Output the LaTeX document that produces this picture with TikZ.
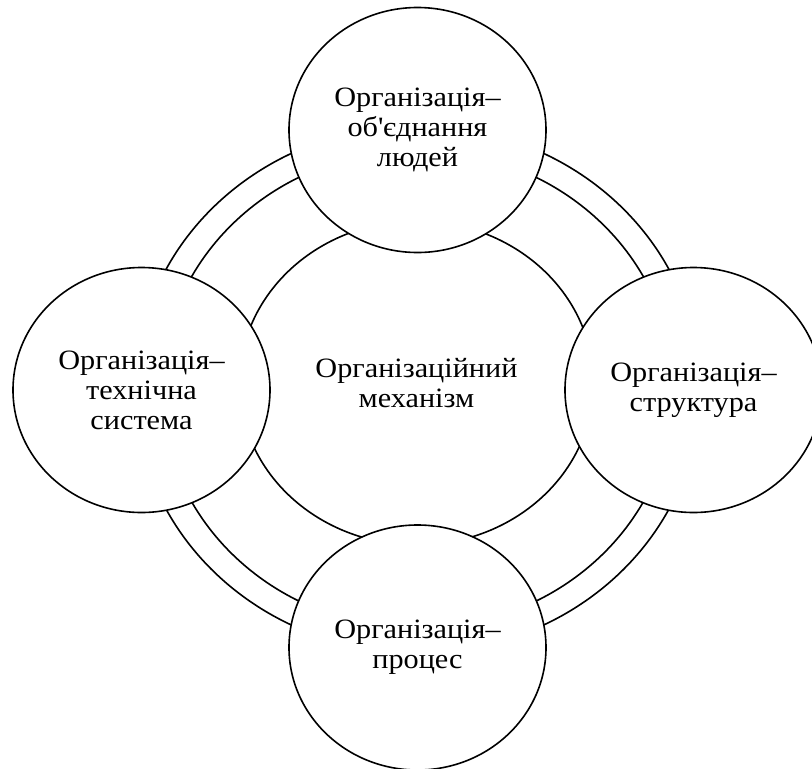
\documentclass[tikz,border=0pt]{standalone}
\usepackage{fontspec}
\setmainfont{Liberation Serif}[FakeStretch=1.08]
\usetikzlibrary{shapes.geometric}
\begin{document}
\begin{tikzpicture}[x=1pt,y=-1pt,line width=1.6pt,
  txt/.style={align=center,font=\fontsize{28}{30}\selectfont},
  sat/.style={ellipse,draw,fill=white,inner sep=0pt,txt,
    minimum width=257pt,minimum height=245pt},
  core/.style={ellipse,draw,fill=white,inner sep=0pt,txt,
    minimum width=354pt,minimum height=324pt},
  ringline/.style={draw}]
\useasboundingbox (0,0) rectangle (812,769);
\clip (0,0) rectangle (812,769);
% double ring
\coordinate (mid) at (417.5,389.2);
\draw[ringline] (mid) ellipse [x radius=282.3pt,y radius=263.5pt];
\draw[ringline] (mid) ellipse [x radius=256pt,y radius=239pt];
% central circle
\node[core] (core) at (416.5,383) {Організаційний\\механізм};
% satellites
\node[sat] (top) at (417.5,130) {Організація–\\об\textquotesingle єднання\\людей};
\node[sat] (left) at (141.5,390) {Організація–\\технічна\\система};
\node[sat] (right) at (693.5,390) {Організація–\\структура};
\node[sat] (bottom) at (417.5,647.5) {Організація–\\процес};
\end{tikzpicture}
\end{document}
